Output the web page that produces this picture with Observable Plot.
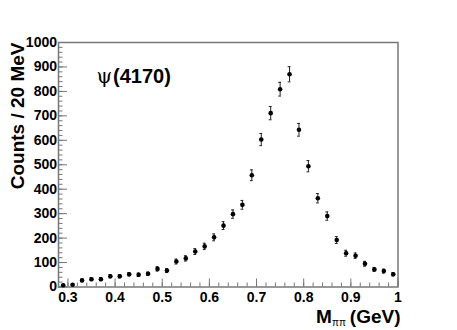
<!DOCTYPE html>
<html>
<head>
<meta charset="utf-8">
<script src="https://cdn.jsdelivr.net/npm/d3@7"></script>
<script src="https://cdn.jsdelivr.net/npm/@observablehq/plot@0.6"></script>
<style>
  html, body { margin: 0; padding: 0; background: #fff; }
</style>
</head>
<body>
<div id="chart"></div>
<script>
const mass = [0.29,0.31,0.33,0.35,0.37,0.39,0.41,0.43,0.45,0.47,0.49,0.51,0.53,0.55,0.57,0.59,0.61,0.63,0.65,0.67,0.69,0.71,0.73,0.75,0.77,0.79,0.81,0.83,0.85,0.87,0.89,0.91,0.93,0.95,0.97,0.99];
const counts = [7,9,27,32,32,44,44,52,50,54,74,67,104,117,145,166,203,251,298,336,457,603,711,809,870,643,494,363,290,192,138,128,95,72,65,52];
const errors = [3,3,5,6,6,7,7,7,7,7,9,8,10,11,12,13,14,16,17,18,22,25,27,28,31,26,23,19,17,14,12,11,10,8,8,7];
const yMajor = d3.range(0, 1001, 100);
const yMinor = d3.range(0, 1001, 20);
const xMajor = [0.3,0.4,0.5,0.6,0.7,0.8,0.9,1.0];
const xMinor = d3.range(0.28, 1.0001, 0.02).map(v => +v.toFixed(2));
const xLabel = ["M", "ππ", "(GeV)"];
const yLabel = "Counts / 20 MeV";
const title = ["ψ", "(4170)"];

const data = mass.map((m, i) => ({m, v: counts[i], e: errors[i]}));
const font = "Liberation Sans, Arial, Helvetica, sans-serif";
const axisColor = "#777";

const plot = Plot.plot({
  width: 457,
  height: 330,
  marginLeft: 58,
  marginRight: 59.5,
  marginTop: 42,
  marginBottom: 43.5,
  style: {fontFamily: font, fontWeight: "bold", background: "#fff"},
  x: {domain: [0.28, 1.0]},
  y: {domain: [0, 1000]},
  marks: [
    Plot.frame({stroke: axisColor, strokeWidth: 1.5}),
    // y axis labels and ticks
    Plot.axisY(yMajor, {tickSize: 0, tickPadding: 1.5, fontSize: 14, fontWeight: "bold", fill: "#000", tickFormat: d => String(d), label: null}),
    Plot.axisY(yMajor, {tickSize: -9, text: null, stroke: axisColor, label: null}),
    Plot.axisY(yMinor, {tickSize: -4.5, text: null, stroke: axisColor, label: null}),
    // x axis labels and ticks
    Plot.axisX(xMajor, {tickSize: 0, tickPadding: 5, fontSize: 14, fontWeight: "bold", fill: "#000", tickFormat: d => d === 1 ? "1" : d.toFixed(1), label: null}),
    Plot.axisX(xMajor, {tickSize: -8, text: null, stroke: axisColor, label: null}),
    Plot.axisX(xMinor, {tickSize: -4, text: null, stroke: axisColor, label: null}),
    // error bars
    Plot.ruleX(data, {x: "m", y1: d => d.v - d.e, y2: d => d.v + d.e, stroke: "#222", strokeWidth: 1}),
    Plot.ruleY(data, {y: d => d.v + d.e, x1: d => d.m - 0.003, x2: d => d.m + 0.003, stroke: "#222", strokeWidth: 1}),
    Plot.ruleY(data, {y: d => d.v - d.e, x1: d => d.m - 0.003, x2: d => d.m + 0.003, stroke: "#222", strokeWidth: 1}),
    Plot.dot(data, {x: "m", y: "v", r: 2.3, fill: "#000", stroke: "none"}),
    // title inside frame
    Plot.text([title[0]], {frameAnchor: "top-left", dx: 38, dy: 40, text: d => d, textAnchor: "start", lineAnchor: "bottom", fontSize: 20, fontWeight: "normal", fontFamily: "DejaVu Serif, serif", fill: "#000"}),
    Plot.text([title[1]], {frameAnchor: "top-left", dx: 54.5, dy: 40, text: d => d, textAnchor: "start", lineAnchor: "bottom", fontSize: 20, fontWeight: "bold", fill: "#000"}),
    // y-axis label
    Plot.text([yLabel], {frameAnchor: "top-left", dx: -34.5, dy: 0, rotate: -90, text: d => d, textAnchor: "end", lineAnchor: "bottom", fontSize: 19, fontWeight: "bold", fill: "#000"}),
    // x-axis label
    Plot.text([xLabel[0]], {frameAnchor: "bottom-right", dx: -82, dy: 36, text: d => d, textAnchor: "start", lineAnchor: "bottom", fontSize: 19, fontWeight: "bold", fill: "#000"}),
    Plot.text([xLabel[1]], {frameAnchor: "bottom-right", dx: -66, dy: 38.5, text: d => d, textAnchor: "start", lineAnchor: "bottom", fontSize: 10, fontWeight: "normal", fill: "#000"}),
    Plot.text([xLabel[2]], {frameAnchor: "bottom-right", dx: 2.5, dy: 36, text: d => d, textAnchor: "end", lineAnchor: "bottom", fontSize: 19, fontWeight: "bold", fill: "#000"})
  ]
});
document.getElementById("chart").appendChild(plot);
</script>
</body>
</html>
